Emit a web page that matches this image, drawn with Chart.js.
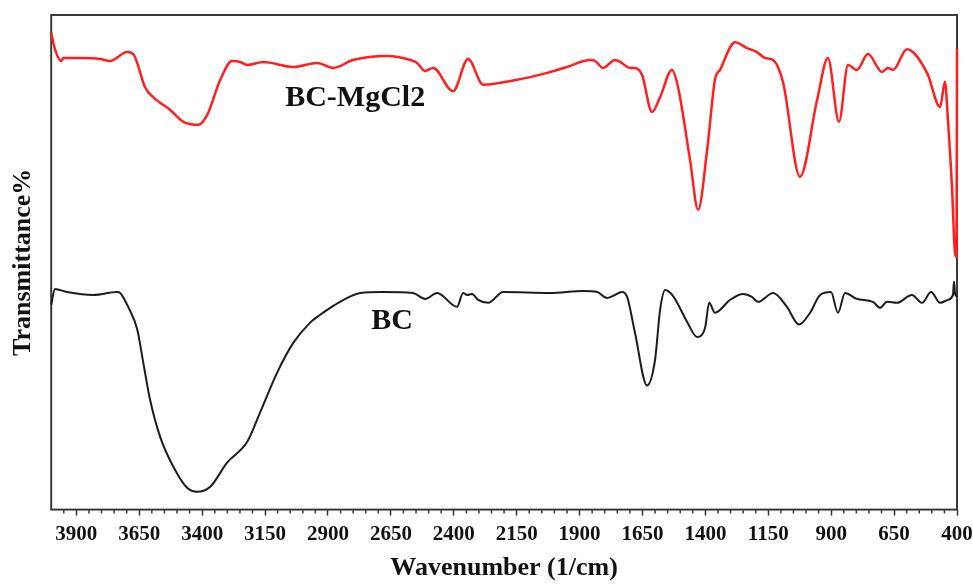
<!DOCTYPE html>
<html>
<head>
<meta charset="utf-8">
<title>FTIR spectra</title>
<script src="https://cdn.jsdelivr.net/npm/chart.js@4.4.1/dist/chart.umd.min.js"></script>
<style>
  html, body { margin: 0; padding: 0; background: #fff; }
  #wrap { width: 973px; height: 584px; }
</style>
</head>
<body>
<div id="wrap"><canvas id="ftirChart" width="973" height="584"></canvas></div>
<script>
// BC-MgCl2 spectrum (wavenumber, transmittance in arbitrary units)
const mgWavenumber = [4000, 3984, 3960, 3952, 3880, 3805, 3766, 3698, 3674, 3626, 3595, 3527, 3475, 3415, 3380, 3328, 3281, 3249, 3221, 3157, 3038, 2943, 2879, 2800, 2665, 2573, 2546, 2514, 2482, 2403, 2343, 2283, 2148, 2029, 1950, 1858, 1838, 1807, 1759, 1739, 1699, 1680, 1652, 1612, 1580, 1533, 1509, 1461, 1429, 1393, 1362, 1342, 1282, 1234, 1195, 1163, 1131, 1091, 1024, 956, 913, 869, 833, 798, 754, 698, 674, 654, 599, 519, 467, 448, 436, 420, 408, 402, 400];
const mgTransmittance = [96.4, 92.9, 90.7, 91.3, 91.3, 91.1, 90.7, 92.5, 92.1, 85.3, 83.4, 80.8, 78.4, 77.8, 79.8, 86.9, 90.7, 90.5, 89.9, 90.5, 89.5, 90.3, 89.3, 90.9, 91.7, 90.9, 90.3, 88.7, 89.3, 84.6, 91.1, 85.9, 86.9, 88.3, 89.5, 90.9, 90.7, 89.3, 90.9, 90.5, 89.3, 89.3, 87.9, 80.4, 83.4, 88.9, 85.5, 70.7, 60.6, 72.7, 86.9, 88.9, 94.5, 93.3, 92.5, 91.3, 90.9, 86.3, 67.3, 82.8, 91.3, 78.4, 89.9, 88.9, 92.1, 88.5, 89.3, 88.9, 93.1, 88.3, 81.4, 86.5, 78.8, 65.3, 51.9, 51.1, 93.1];

// BC spectrum
const bcWavenumber = [4000, 3985, 3937, 3833, 3738, 3726, 3694, 3658, 3634, 3607, 3567, 3515, 3460, 3420, 3368, 3301, 3221, 3170, 3102, 3038, 2971, 2931, 2891, 2852, 2772, 2681, 2562, 2514, 2466, 2387, 2363, 2347, 2327, 2303, 2263, 2204, 2017, 1886, 1830, 1791, 1767, 1731, 1711, 1680, 1632, 1600, 1580, 1560, 1529, 1473, 1433, 1401, 1385, 1362, 1302, 1250, 1215, 1191, 1131, 1076, 1028, 984, 944, 901, 873, 845, 798, 734, 706, 678, 639, 579, 539, 503, 467, 436, 416, 412, 408, 400];
const bcTransmittance = [41.4, 44.6, 44.0, 43.4, 44.0, 43.8, 41.0, 36.4, 29.7, 22.2, 14.7, 8.7, 4.4, 3.6, 4.6, 9.5, 13.7, 19.6, 27.7, 33.7, 37.8, 39.4, 40.8, 42.0, 43.8, 44.0, 43.8, 42.6, 43.8, 41.0, 43.8, 43.4, 43.6, 42.4, 41.8, 44.0, 43.8, 44.2, 44.0, 42.8, 43.2, 44.0, 43.0, 35.8, 25.1, 30.3, 40.4, 44.4, 43.2, 38.0, 34.9, 36.8, 41.8, 39.8, 42.4, 43.6, 43.0, 42.0, 43.8, 41.0, 37.4, 39.8, 43.4, 44.0, 39.8, 43.8, 42.6, 42.0, 40.8, 42.0, 41.8, 43.4, 41.8, 44.0, 41.8, 42.4, 43.4, 46.1, 43.8, 43.0];

// labelled ticks on the wavenumber axis
const xTicks = [3900, 3650, 3400, 3150, 2900, 2650, 2400, 2150, 1900, 1650, 1400, 1150, 900, 650, 400];

// curve names written inside the plot
const curveNames = ["BC-MgCl2", "BC"];
const curveNameX = [2792, 2645];
const curveNameY = [83.2, 38.0];

const serif = "'Liberation Serif', 'Times New Roman', serif";

const toPoints = (xs, ys) => xs.map((x, i) => ({ x: x, y: ys[i] }));

// frame and minor ticks go under the spectra, curve names on top
const framePlugin = {
  id: "frame",
  beforeDatasetsDraw(chart) {
    const ctx = chart.ctx;
    const area = chart.chartArea;
    const xs = chart.scales.x;
    ctx.save();
    ctx.strokeStyle = "#3a3a3a";
    ctx.lineWidth = 2;
    ctx.strokeRect(area.left, area.top, area.right - area.left, area.bottom - area.top);

    ctx.lineWidth = 1.5;
    ctx.beginPath();
    for (let v = 450; v < 4000; v += 50) {
      if ((v - 400) % 250 === 0) continue;
      const px = xs.getPixelForValue(v);
      ctx.moveTo(px, area.bottom);
      ctx.lineTo(px, area.bottom + 4);
    }
    ctx.stroke();
    ctx.restore();
  },
  afterDraw(chart) {
    const ctx = chart.ctx;
    ctx.save();
    ctx.fillStyle = "#111";
    ctx.font = "bold 30px " + serif;
    ctx.textAlign = "center";
    ctx.textBaseline = "middle";
    curveNames.forEach((name, i) => {
      ctx.fillText(name, chart.scales.x.getPixelForValue(curveNameX[i]), chart.scales.y.getPixelForValue(curveNameY[i]));
    });
    ctx.restore();
  }
};

new Chart(document.getElementById("ftirChart").getContext("2d"), {
  type: "line",
  data: {
    datasets: [
      {
        label: "BC-MgCl2",
        data: toPoints(mgWavenumber, mgTransmittance),
        borderColor: "#ff1f1f",
        borderWidth: 2.5,
        pointRadius: 0,
        fill: false,
        cubicInterpolationMode: "monotone",
        clip: false,
      },
      {
        label: "BC",
        data: toPoints(bcWavenumber, bcTransmittance),
        borderColor: "#1c1c1c",
        borderWidth: 2,
        pointRadius: 0,
        fill: false,
        cubicInterpolationMode: "monotone",
        clip: false,
      },
    ],
  },
  options: {
    responsive: false,
    animation: false,
    layout: { padding: { left: 8, right: 16, top: 15, bottom: 0 } },
    plugins: {
      legend: { display: false },
      tooltip: { enabled: false },
    },
    scales: {
      x: {
        type: "linear",
        reverse: true,
        min: 400,
        max: 4000,
        afterBuildTicks: (scale) => {
          scale.ticks = xTicks.map((v) => ({ value: v }));
        },
        // let the end labels hang past the plot edges
        afterFit: (scale) => {
          scale.paddingLeft = 0;
          scale.paddingRight = 0;
        },
        grid: {
          display: true,
          drawOnChartArea: false,
          drawTicks: true,
          tickLength: 6,
          tickWidth: 1.5,
          tickColor: "#333",
        },
        border: { display: false },
        ticks: {
          autoSkip: false,
          maxRotation: 0,
          padding: 6,
          color: "#111",
          font: { family: serif, size: 21, weight: "bold" },
          callback: (v) => String(v),
        },
        title: {
          display: true,
          text: "Wavenumber (1/cm)",
          color: "#111",
          padding: { top: 0, bottom: 0 },
          font: { family: serif, size: 26, weight: "bold" },
        },
      },
      y: {
        min: 0,
        max: 100,
        grid: { display: false, drawTicks: false },
        border: { display: false },
        ticks: { display: false },
        title: {
          display: true,
          text: "Transmittance%",
          color: "#111",
          padding: { top: 0, bottom: 12 },
          font: { family: serif, size: 26, weight: "bold" },
        },
      },
    },
  },
  plugins: [framePlugin],
});
</script>
</body>
</html>
